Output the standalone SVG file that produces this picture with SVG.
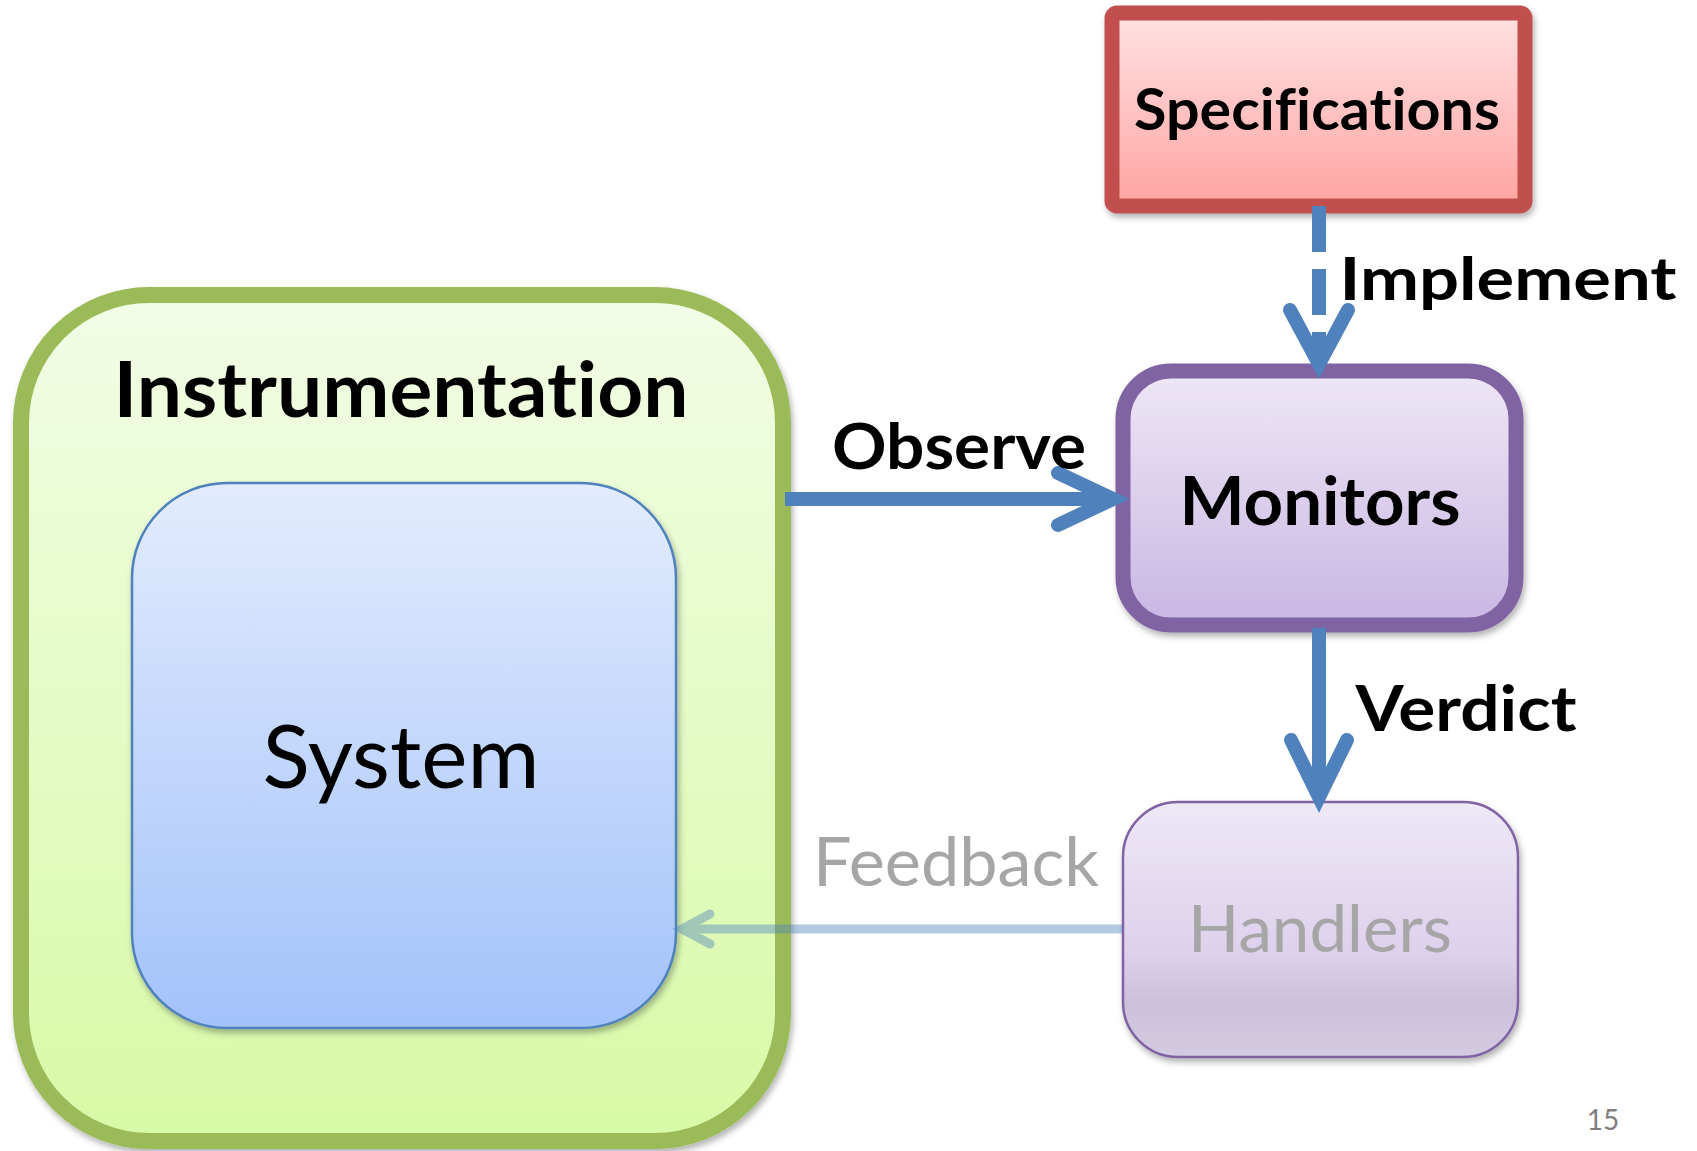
<svg xmlns="http://www.w3.org/2000/svg" width="1697" height="1151" viewBox="0 0 1697 1151">
<defs>
<linearGradient id="gSpec" x1="0" y1="0" x2="0" y2="1"><stop offset="0" stop-color="#FFE2E2"/><stop offset="1" stop-color="#FFA4A2"/></linearGradient>
<linearGradient id="gInst" x1="0" y1="0" x2="0" y2="1"><stop offset="0" stop-color="#F2FDE6"/><stop offset="1" stop-color="#D7FAA6"/></linearGradient>
<linearGradient id="gSys" x1="0" y1="0" x2="0" y2="1"><stop offset="0" stop-color="#E2ECFD"/><stop offset="1" stop-color="#A3C2FA"/></linearGradient>
<linearGradient id="gMon" x1="0" y1="0" x2="0" y2="1"><stop offset="0" stop-color="#EEE7F6"/><stop offset="1" stop-color="#C8B7E3"/></linearGradient>
<linearGradient id="gHan" x1="0" y1="0" x2="0" y2="1"><stop offset="0" stop-color="#EEE8F6"/><stop offset="0.6" stop-color="#DDD0EC"/><stop offset="0.78" stop-color="#CCC0DC"/><stop offset="1" stop-color="#D3CBE1"/></linearGradient>
<filter id="sh" x="-10%" y="-10%" width="120%" height="120%"><feDropShadow dx="2" dy="4" stdDeviation="3" flood-color="#000" flood-opacity="0.3"/></filter>
</defs>
<style>
text{font-variant-ligatures:none;font-feature-settings:"liga" 0,"dlig" 0}
.b{font-family:Lato,"Open Sans","Liberation Sans",sans-serif;font-weight:bold;fill:#000;text-anchor:middle}
.r{font-family:Lato,"Open Sans","Liberation Sans",sans-serif;font-weight:normal;text-anchor:middle}
.ln{fill:none;stroke:#4F81BD;stroke-width:14;stroke-linecap:butt}
.hd{fill:none;stroke:#4F81BD;stroke-width:14;stroke-linecap:round;stroke-linejoin:miter}
</style>
<rect width="1697" height="1151" fill="#FFFFFF"/>
<g id="instrumentation">
<rect x="21" y="295" width="762" height="846" rx="128" ry="128" fill="url(#gInst)" stroke="#9BBB59" stroke-width="16" filter="url(#sh)"/>
<text class="b" x="401" y="417" font-size="76" textLength="575" lengthAdjust="spacingAndGlyphs">Instrumentation</text>
</g>
<g id="system">
<rect x="132" y="483" width="544" height="545" rx="95" ry="95" fill="url(#gSys)" stroke="#4F81BD" stroke-width="2.5" filter="url(#sh)"/>
<text class="r" x="401" y="788" font-size="88" fill="#000" textLength="277" lengthAdjust="spacingAndGlyphs">System</text>
</g>
<g id="specifications">
<rect x="1112" y="13" width="413" height="193" rx="5" ry="5" fill="url(#gSpec)" stroke="#C0504D" stroke-width="15" filter="url(#sh)"/>
<text class="b" x="1317" y="130" font-size="58" textLength="366" lengthAdjust="spacingAndGlyphs">Specifications</text>
</g>
<g id="monitors">
<rect x="1123" y="371" width="393" height="254" rx="48" ry="48" fill="url(#gMon)" stroke="#8064A2" stroke-width="15" filter="url(#sh)"/>
<text class="b" x="1320" y="525" font-size="66" textLength="281" lengthAdjust="spacingAndGlyphs">Monitors</text>
</g>
<g id="handlers">
<rect x="1123" y="802" width="395" height="255" rx="55" ry="55" fill="url(#gHan)" stroke="#8064A2" stroke-width="2.5" filter="url(#sh)"/>
<text class="r" x="1320" y="952" font-size="66" fill="#A6A6A6" textLength="264" lengthAdjust="spacingAndGlyphs">Handlers</text>
</g>
<g id="connectors">
<g id="implement">
<line class="ln" x1="1319" y1="206" x2="1319" y2="358" stroke-dasharray="46 17"/>
<polyline class="hd" points="1290,310 1319,364 1348,310"/>
<text class="b" x="1508" y="300" font-size="60" textLength="337" lengthAdjust="spacingAndGlyphs">Implement</text>
</g>
<g id="observe">
<line class="ln" x1="785" y1="499" x2="1110" y2="499"/>
<polyline class="hd" points="1058,473 1113,499 1058,525"/>
<text class="b" x="959" y="469" font-size="64" textLength="254" lengthAdjust="spacingAndGlyphs">Observe</text>
</g>
<g id="verdict">
<line class="ln" x1="1319" y1="628" x2="1319" y2="795"/>
<polyline class="hd" points="1291,740 1319,797 1347,740"/>
<text class="b" x="1466" y="731" font-size="63" textLength="221" lengthAdjust="spacingAndGlyphs">Verdict</text>
</g>
<g id="feedback" opacity="0.42">
<line x1="1122" y1="929" x2="684" y2="929" stroke="#4F81BD" stroke-width="9"/>
<polyline points="710,914 682,929 710,944" fill="none" stroke="#4F81BD" stroke-width="9" stroke-linecap="round"/>
</g>
<text class="r" x="956" y="886" font-size="67" fill="#A6A6A6" textLength="286" lengthAdjust="spacingAndGlyphs">Feedback</text>
</g>
<text class="r" x="1603" y="1130" font-size="28" fill="#7F7F7F">15</text>
</svg>
